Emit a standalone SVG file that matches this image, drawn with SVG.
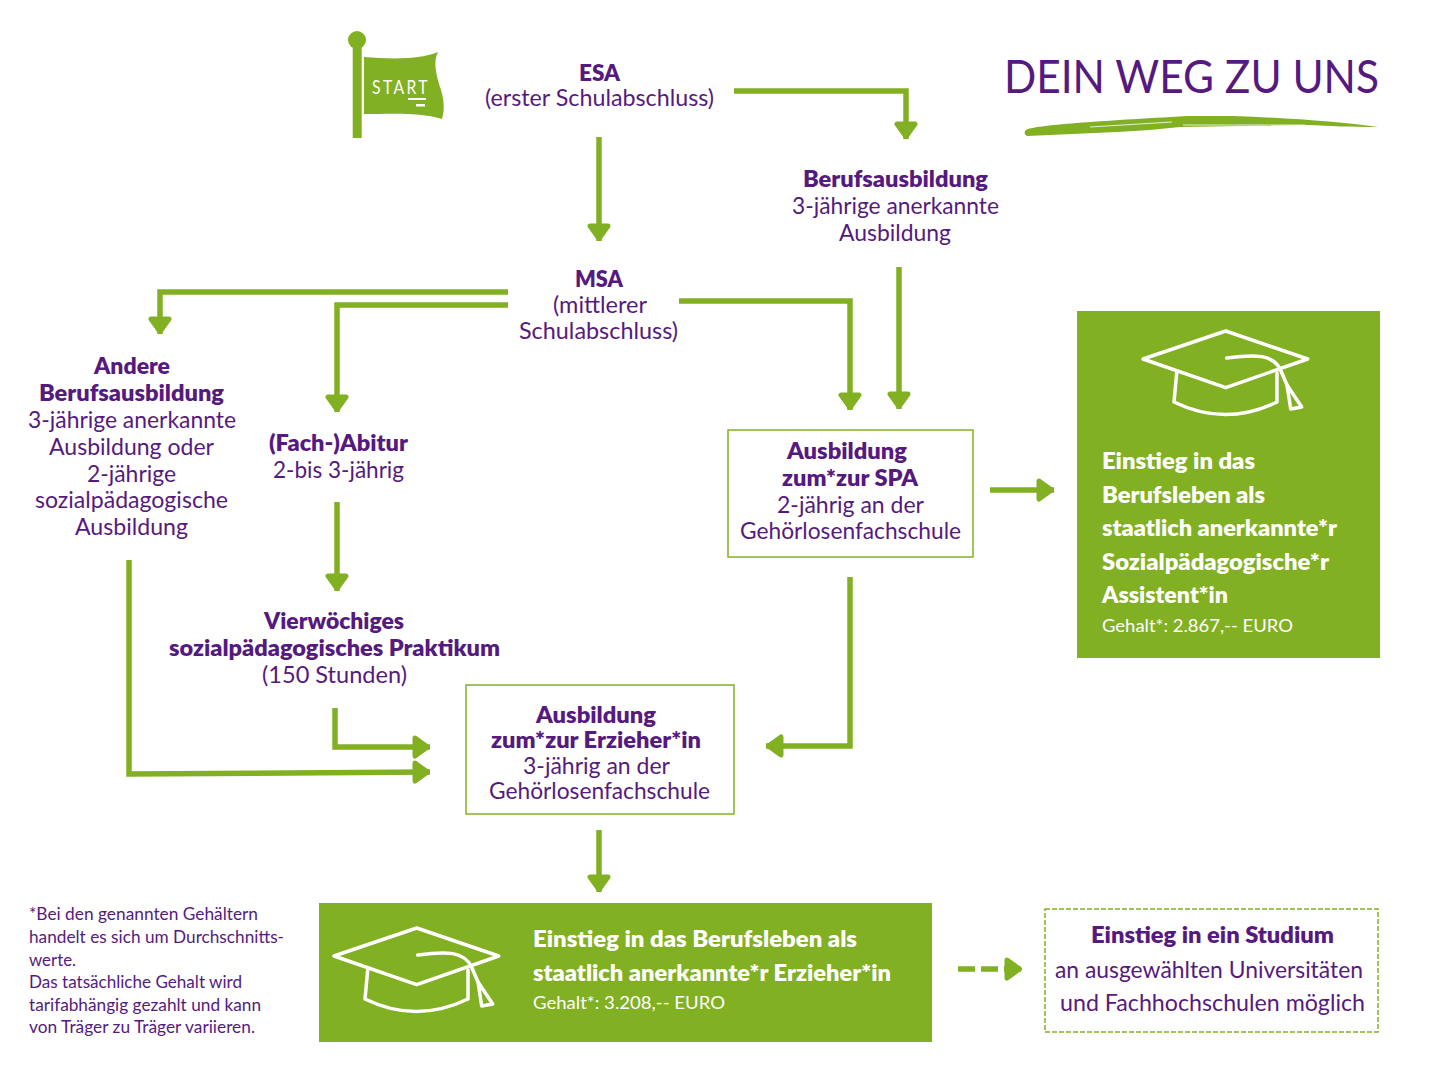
<svg xmlns="http://www.w3.org/2000/svg" width="1440" height="1080" viewBox="0 0 1440 1080">
<style>
text{font-family:Lato,"Noto Sans","Liberation Sans",sans-serif;fill:#551a80;font-size:22.5px}
.b{font-weight:800}
.w{fill:#fff}
.wb{fill:#fff;font-weight:800}
.s{font-size:18px}
.n{font-size:16.5px}
.c{fill:none;stroke:#82b023;stroke-width:5.5}
.hat{fill:none;stroke:#fff;stroke-width:3.5;stroke-linejoin:round;stroke-linecap:round}
</style>
<defs>
<marker id="arr" markerUnits="userSpaceOnUse" markerWidth="30" markerHeight="30" viewBox="-4 -15 30 30" refX="16" refY="0" orient="auto" overflow="visible">
<path d="M1,-9 L13.500,0 L1,9 Z" fill="#82b023" stroke="#82b023" stroke-width="5" stroke-linejoin="round"/>
</marker>
<g id="hat" class="hat">
<path d="M1225.700,331 L1307.700,359 L1225.700,387.700 L1143,359 Z"/>
<path d="M1176.700,373 L1174,402 Q1225,427 1277,402 L1277,373"/>
<path d="M1226.700,358 C1255,354 1274,354 1281,371 L1287,385"/>
<path d="M1287,385 L1290.700,409 L1301.700,407 Z"/>
</g>
</defs>
<rect width="1440" height="1080" fill="#fff"/>

<g id="connectors">
<path class="c" d="M734,91 H906 V139" marker-end="url(#arr)"/>
<path class="c" d="M599,137 V241" marker-end="url(#arr)"/>
<path class="c" d="M508,292 H160 V334" marker-end="url(#arr)"/>
<path class="c" d="M508,305 H337 V412" marker-end="url(#arr)"/>
<path class="c" d="M679,301 H850 V410" marker-end="url(#arr)"/>
<path class="c" d="M899,267 V409" marker-end="url(#arr)"/>
<path class="c" d="M990,490 H1054" marker-end="url(#arr)"/>
<path class="c" d="M850,577 V746 H766" marker-end="url(#arr)"/>
<path class="c" d="M337,502 V591" marker-end="url(#arr)"/>
<path class="c" d="M335,708 V747 H430" marker-end="url(#arr)"/>
<path class="c" d="M129,560 V774 L430,772" marker-end="url(#arr)"/>
<path class="c" d="M599,830 V892" marker-end="url(#arr)"/>
<path class="c" d="M958,969 H1022" stroke-dasharray="17 6" marker-end="url(#arr)"/>
</g>

<g id="start">
<rect x="352.700" y="44" width="9" height="94" fill="#82b023"/>
<circle cx="357" cy="40" r="9" fill="#82b023"/>
<path d="M364,57 C390,59 418,60 438,52 C433,62 436,74 440,87 C444,98 445,110 442,119 C420,112 390,114 364,114 Z" fill="#82b023"/>
<text x="372" y="94" class="w" style="font-size:20px;letter-spacing:3px" textLength="58" lengthAdjust="spacingAndGlyphs">START</text>
<rect x="408" y="98" width="18" height="2" fill="#fff"/>
<rect x="416" y="104" width="9" height="2.500" fill="#fff"/>
</g>

<g id="title">
<text x="1004" y="93" style="font-size:46px" textLength="375" lengthAdjust="spacingAndGlyphs">DEIN WEG ZU UNS</text>
<path d="M1026,130 C1034,125 1100,121 1187,116 L1233,116 C1290,118 1340,122 1378,127 C1350,127 1330,126 1307,125 L1180,127 C1160,129 1140,131 1117,132 L1027,136 C1024,134 1024,132 1026,130 Z" fill="#82b023"/>
<path d="M1090,127 L1172,122 M1183,125 L1305,125" stroke="#fff" stroke-width="0.800" fill="none"/>
</g>

<g id="esa">
<text x="579" y="81" class="b" textLength="41" lengthAdjust="spacingAndGlyphs">ESA</text>
<text x="485" y="106" textLength="229" lengthAdjust="spacingAndGlyphs">(erster Schulabschluss)</text>
</g>
<g id="berufsausbildung">
<text x="803" y="187" class="b" textLength="185" lengthAdjust="spacingAndGlyphs">Berufsausbildung</text>
<text x="792" y="214" textLength="207" lengthAdjust="spacingAndGlyphs">3-jährige anerkannte</text>
<text x="839" y="241" textLength="112" lengthAdjust="spacingAndGlyphs">Ausbildung</text>
</g>
<g id="msa">
<text x="575" y="287" class="b" textLength="48" lengthAdjust="spacingAndGlyphs">MSA</text>
<text x="553" y="313" textLength="94" lengthAdjust="spacingAndGlyphs">(mittlerer</text>
<text x="519" y="339" textLength="159" lengthAdjust="spacingAndGlyphs">Schulabschluss)</text>
</g>
<g id="andere">
<text x="94" y="374" class="b" textLength="76" lengthAdjust="spacingAndGlyphs">Andere</text>
<text x="39" y="401" class="b" textLength="185" lengthAdjust="spacingAndGlyphs">Berufsausbildung</text>
<text x="28" y="428" textLength="208" lengthAdjust="spacingAndGlyphs">3-jährige anerkannte</text>
<text x="49" y="455" textLength="165" lengthAdjust="spacingAndGlyphs">Ausbildung oder</text>
<text x="87" y="482" textLength="89" lengthAdjust="spacingAndGlyphs">2-jährige</text>
<text x="35" y="508" textLength="193" lengthAdjust="spacingAndGlyphs">sozialpädagogische</text>
<text x="75" y="535" textLength="113" lengthAdjust="spacingAndGlyphs">Ausbildung</text>
</g>
<g id="abitur">
<text x="269" y="451" class="b" textLength="139" lengthAdjust="spacingAndGlyphs">(Fach-)Abitur</text>
<text x="273" y="478" textLength="131" lengthAdjust="spacingAndGlyphs">2-bis 3-jährig</text>
</g>
<g id="praktikum">
<text x="264" y="629" class="b" textLength="140" lengthAdjust="spacingAndGlyphs">Vierwöchiges</text>
<text x="169" y="656" class="b" textLength="331" lengthAdjust="spacingAndGlyphs">sozialpädagogisches Praktikum</text>
<text x="262" y="683" textLength="145" lengthAdjust="spacingAndGlyphs">(150 Stunden)</text>
</g>
<g id="spa">
<rect x="728" y="430" width="245" height="127" fill="none" stroke="#82b023" stroke-width="1.500"/>
<text x="787" y="459" class="b" textLength="120" lengthAdjust="spacingAndGlyphs">Ausbildung</text>
<text x="782" y="486" class="b" textLength="136" lengthAdjust="spacingAndGlyphs">zum*zur SPA</text>
<text x="777" y="513" textLength="147" lengthAdjust="spacingAndGlyphs">2-jährig an der</text>
<text x="740" y="539" textLength="221" lengthAdjust="spacingAndGlyphs">Gehörlosenfachschule</text>
</g>
<g id="erzieher">
<rect x="466" y="685" width="268" height="129" fill="none" stroke="#82b023" stroke-width="1.500"/>
<text x="536" y="723" class="b" textLength="120" lengthAdjust="spacingAndGlyphs">Ausbildung</text>
<text x="491" y="748" class="b" textLength="210" lengthAdjust="spacingAndGlyphs">zum*zur Erzieher*in</text>
<text x="523" y="774" textLength="147" lengthAdjust="spacingAndGlyphs">3-jährig an der</text>
<text x="489" y="799" textLength="221" lengthAdjust="spacingAndGlyphs">Gehörlosenfachschule</text>
</g>
<g id="spa-beruf">
<rect x="1077" y="311" width="303" height="347" fill="#82b023"/>
<use href="#hat"/>
<text x="1102" y="469" class="wb" textLength="153" lengthAdjust="spacingAndGlyphs">Einstieg in das</text>
<text x="1102" y="503" class="wb" textLength="163" lengthAdjust="spacingAndGlyphs">Berufsleben als</text>
<text x="1102" y="536" class="wb" textLength="235" lengthAdjust="spacingAndGlyphs">staatlich anerkannte*r</text>
<text x="1102" y="570" class="wb" textLength="227" lengthAdjust="spacingAndGlyphs">Sozialpädagogische*r</text>
<text x="1102" y="603" class="wb" textLength="126" lengthAdjust="spacingAndGlyphs">Assistent*in</text>
<text x="1102" y="632" class="w s" textLength="191" lengthAdjust="spacingAndGlyphs">Gehalt*: 2.867,-- EURO</text>
</g>
<g id="erzieher-beruf">
<rect x="319" y="903" width="613" height="139" fill="#82b023"/>
<use href="#hat" transform="translate(-809 597)"/>
<text x="533" y="947" class="wb" textLength="324" lengthAdjust="spacingAndGlyphs">Einstieg in das Berufsleben als</text>
<text x="533" y="981" class="wb" textLength="358" lengthAdjust="spacingAndGlyphs">staatlich anerkannte*r Erzieher*in</text>
<text x="533" y="1009" class="w s" textLength="192" lengthAdjust="spacingAndGlyphs">Gehalt*: 3.208,-- EURO</text>
</g>
<g id="studium">
<rect x="1045" y="909" width="333" height="123" fill="none" stroke="#82b023" stroke-width="1.500" stroke-dasharray="5 2"/>
<text x="1091" y="943" class="b" textLength="243" lengthAdjust="spacingAndGlyphs">Einstieg in ein Studium</text>
<text x="1055" y="978" textLength="308" lengthAdjust="spacingAndGlyphs">an ausgewählten Universitäten</text>
<text x="1060" y="1011" textLength="305" lengthAdjust="spacingAndGlyphs">und Fachhochschulen möglich</text>
</g>
<g id="footnote">
<text x="29" y="920" class="n" textLength="229" lengthAdjust="spacingAndGlyphs">*Bei den genannten Gehältern</text>
<text x="29" y="943" class="n" textLength="255" lengthAdjust="spacingAndGlyphs">handelt es sich um Durchschnitts-</text>
<text x="29" y="966" class="n" textLength="47" lengthAdjust="spacingAndGlyphs">werte.</text>
<text x="29" y="988" class="n" textLength="213" lengthAdjust="spacingAndGlyphs">Das tatsächliche Gehalt wird</text>
<text x="29" y="1011" class="n" textLength="232" lengthAdjust="spacingAndGlyphs">tarifabhängig gezahlt und kann</text>
<text x="29" y="1033" class="n" textLength="226" lengthAdjust="spacingAndGlyphs">von Träger zu Träger variieren.</text>
</g>
</svg>
